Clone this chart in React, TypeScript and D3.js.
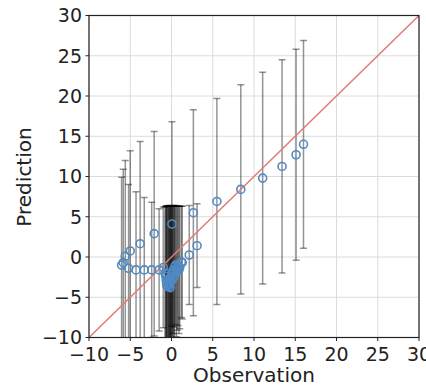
import React from "react";
import * as d3 from "d3";

const obs = [
  16.0, 15.1, 13.4, 11.05, 8.4, 5.5, 2.65, 3.1, 2.15, 1.2, 0.05,
  -2.1, -3.8, -5.0, -5.6, -5.85, -6.05,
  -5.2, -4.3, -3.3, -2.4, -1.5,
  -1.0, -0.8, -0.7, -0.6, -0.5, -0.4, -0.3, -0.2, -0.1, 0.0, 0.1, 0.2, 0.3, 0.4, 0.5, 0.7, 0.9, 1.0, 1.3,
  -0.55, -0.35, -0.25, -0.05, 0.15, 0.35, 0.6, 0.8, -0.65, -0.15,
];
const pred = [
  14.0, 12.7, 11.25, 9.8, 8.4, 6.9, 5.5, 1.4, 0.25, -0.6, 4.1,
  2.9, 1.65, 0.75, 0.1, -0.7, -1.0,
  -1.4, -1.6, -1.6, -1.6, -1.6,
  -1.3, -2.0, -2.4, -3.3, -3.0, -3.5, -2.8, -3.2, -2.5, -2.2, -2.0, -1.6, -1.9, -1.2, -1.0, -1.4, -1.6, -1.3, -0.7,
  -3.6, -3.7, -3.4, -3.0, -2.7, -2.4, -1.8, -1.1, -2.9, -3.8,
];
const errs = [
  12.9, 13.1, 13.25, 13.15, 13.0, 12.8, 12.8, 5.2, 6.15, 6.9, 12.7,
  12.7, 12.7, 12.45, 11.9, 11.6, 10.9,
  10.4, 9.7, 9.0, 8.4, 7.6,
  7.5, 8.2, 8.7, 9.6, 9.3, 9.9, 9.1, 9.5, 8.9, 8.5, 8.3, 7.9, 8.3, 7.5, 7.4, 7.7, 7.9, 7.6, 7.0,
  9.9, 10.0, 9.7, 9.3, 9.0, 8.7, 8.1, 7.4, 9.2, 10.1,
];
const ticks = [-10, -5, 0, 5, 10, 15, 20, 25, 30];

const W = 426, H = 386;
const X0 = 89, X1 = 419, Y0 = 15.5, Y1 = 337.5;

export default function App() {
  const x = d3.scaleLinear().domain([-10, 30]).range([X0, X1]);
  const y = d3.scaleLinear().domain([-10, 30]).range([Y1, Y0]);
  const fmt = (v: number) => (v < 0 ? "\u2212" + Math.abs(v) : String(v));
  const font = "DejaVu Sans";
  return (
    <svg width={W} height={H} style={{ position: "absolute", left: 0, top: 0 }}>
      <defs>
        <clipPath id="plot">
          <rect x={X0} y={Y0} width={X1 - X0} height={Y1 - Y0} />
        </clipPath>
      </defs>
      <rect x={0} y={0} width={W} height={H} fill="#fff" />
      {ticks.map((t) => (
        <g key={"g" + t}>
          <line x1={x(t)} x2={x(t)} y1={Y0} y2={Y1} stroke="#dcdcdc" strokeWidth={1} />
          <line x1={X0} x2={X1} y1={y(t)} y2={y(t)} stroke="#dcdcdc" strokeWidth={1} />
        </g>
      ))}
      <g clipPath="url(#plot)">
        {obs.map((o, i) => {
          const cx = x(o);
          const top = y(pred[i] + errs[i]);
          const bot = y(pred[i] - errs[i]);
          return (
            <g key={"e" + i} stroke="#000" strokeOpacity={0.42} strokeWidth={1.5}>
              <line x1={cx} x2={cx} y1={top} y2={bot} />
              <line x1={cx - 3.5} x2={cx + 3.5} y1={top} y2={top} />
              <line x1={cx - 3.5} x2={cx + 3.5} y1={bot} y2={bot} />
            </g>
          );
        })}
        <line x1={x(-10)} y1={y(-10)} x2={x(30)} y2={y(30)} stroke="#e07b78" strokeWidth={1.5} />
        {obs.map((o, i) => (
          <circle key={"c" + i} cx={x(o)} cy={y(pred[i])} r={4} fill="none" stroke="#4f8ac4" strokeWidth={1.6} />
        ))}
      </g>
      <rect x={X0} y={Y0} width={X1 - X0} height={Y1 - Y0} fill="none" stroke="#222" strokeWidth={1.2} />
      {ticks.map((t) => (
        <g key={"t" + t} fontFamily={font} fontSize={19} fill="#222">
          <line x1={X0 - 3.5} x2={X0} y1={y(t)} y2={y(t)} stroke="#222" />
          <text x={X0 - 7} y={y(t)} dy="0.36em" textAnchor="end">{fmt(t)}</text>
          <line x1={x(t)} x2={x(t)} y1={Y1} y2={Y1 + 3.5} stroke="#222" />
          <text x={x(t)} y={Y1 + 23} textAnchor="middle">{fmt(t)}</text>
        </g>
      ))}
      <text x={254} y={382} textAnchor="middle" fontFamily={font} fontSize={20} fill="#222">Observation</text>
      <text transform={`translate(31,177) rotate(-90)`} textAnchor="middle" fontFamily={font} fontSize={20} fill="#222">Prediction</text>
    </svg>
  );
}
